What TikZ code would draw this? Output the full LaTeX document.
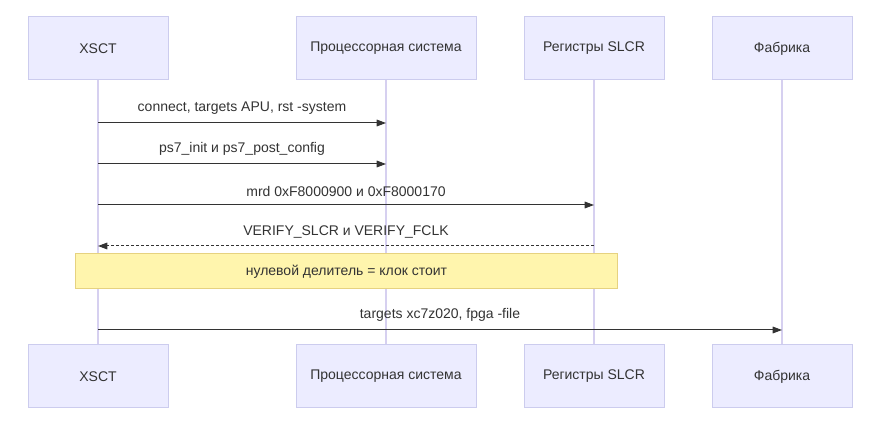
\documentclass[tikz,border=0pt]{standalone}
\usepackage{fontspec}
\setmainfont{Liberation Sans}
\usetikzlibrary{arrows.meta}
\definecolor{actfill}{HTML}{ECECFF}
\definecolor{actline}{HTML}{CCCCEE}
\definecolor{lifeline}{HTML}{D6D0F0}
\definecolor{notefill}{HTML}{FFF5AD}
\definecolor{noteline}{HTML}{E6D280}
\definecolor{txt}{HTML}{333333}
\tikzset{every picture/.style={line width=0.75pt}}
\tikzset{
  actor/.style={draw=actline,fill=actfill,minimum width=105pt,minimum height=47.25pt,inner sep=0pt,text=txt,font=\fontsize{10.5}{12}\selectfont},
  msg/.style={draw=txt,-{Triangle[length=7pt,width=5pt]}},
  msglabel/.style={text=txt,font=\fontsize{10.5}{12}\selectfont,inner sep=0.75pt},
  life/.style={draw=lifeline,line width=1pt}
}
\begin{document}
\begin{tikzpicture}[x=0.75pt,y=0.75pt,yscale=-1,xscale=1]
\useasboundingbox (0,0) rectangle (876,423);

% actors
\node [actor] (xsctT) at (98,48.5) {XSCT};
\node [actor,minimum width=135pt] (cpuT) at (386,48.5) {Процессорная система};
\node [actor] (slcrT) at (594,48.5) {Регистры SLCR};
\node [actor] (fabT) at (782,48.5) {Фабрика};
\node [actor] (xsctB) at (98,376.5) {XSCT};
\node [actor,minimum width=135pt] (cpuB) at (386,376.5) {Процессорная система};
\node [actor] (slcrB) at (594,376.5) {Регистры SLCR};
\node [actor] (fabB) at (782,376.5) {Фабрика};

% lifelines
\foreach \a in {xsct,cpu,slcr,fab}
  \draw [life] (\a T.south) -- (\a B.north);

% note
\node [draw=noteline,fill=notefill,minimum width=406.5pt,minimum height=26.25pt,inner sep=0pt,text=txt,font=\fontsize{10.5}{12}\selectfont] (note) at (346.5,271.5) {нулевой делитель = клок стоит};
\foreach \a in {xsct,cpu,slcr}
  \draw [life] (\a T.south |- note.south) -- (\a B.north);

% messages
\coordinate (m1a) at (98,123);  \coordinate (m1b) at (386,123);
\coordinate (m2a) at (98,164);  \coordinate (m2b) at (386,164);
\coordinate (m3a) at (98,205);  \coordinate (m3b) at (594,205);
\coordinate (m4a) at (594,246); \coordinate (m4b) at (98,246);
\coordinate (m5a) at (98,330);  \coordinate (m5b) at (782,330);

\draw [msg] (m1a) -- node [msglabel,above=5pt] {connect, targets APU, rst -system} (m1b);
\draw [msg] (m2a) -- node [msglabel,above=5pt] {ps7\_init и ps7\_post\_config} (m2b);
\draw [msg] (m3a) -- node [msglabel,above=5pt] {mrd 0xF8000900 и 0xF8000170} (m3b);
\draw [msg,dash pattern={on 2.25pt off 1.5pt}] (m4a) -- node [msglabel,above=5pt] {VERIFY\_SLCR и VERIFY\_FCLK} (m4b);
\draw [msg] (m5a) -- node [msglabel,above=5pt] {targets xc7z020, fpga -file} (m5b);

\end{tikzpicture}
\end{document}
